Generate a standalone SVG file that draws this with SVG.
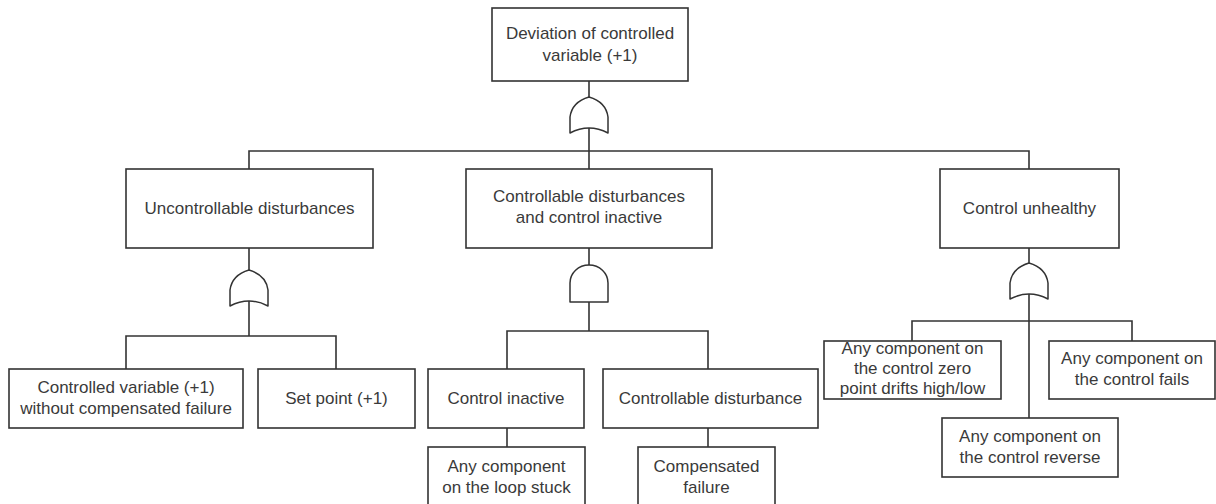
<svg xmlns="http://www.w3.org/2000/svg" width="1216" height="504" viewBox="0 0 1216 504">
  <style>
    .box { fill: #ffffff; stroke: #333333; stroke-width: 1.6; }
    .gate { fill: #ffffff; stroke: #333333; stroke-width: 1.5; stroke-linejoin: round; }
    .wire { fill: none; stroke: #333333; stroke-width: 1.6; }
    text { font-family: "Liberation Sans", Arial, sans-serif; font-size: 17px; fill: #3a3a3a; text-anchor: middle; }
  </style>
  <rect width="1216" height="504" fill="#ffffff"/>

  <!-- connectors -->
  <g id="connectors" class="wire">
    <!-- top event to first level -->
    <path d="M589 81 V151"/>
    <path d="M249 169 V151 H1029 V169"/>
    <path d="M589 151 V169"/>
    <!-- uncontrollable disturbances branch -->
    <path d="M249 248 V336"/>
    <path d="M126 369 V336 H336 V369"/>
    <!-- controllable disturbances branch -->
    <path d="M589 248 V331"/>
    <path d="M507 369 V331 H708 V369"/>
    <path d="M507 428 V447"/>
    <path d="M708 428 V447"/>
    <!-- control unhealthy branch -->
    <path d="M1029 248 V418"/>
    <path d="M912 341 V321 H1132 V341"/>
  </g>

  <!-- logic gates -->
  <g id="gate-top-or">
    <path class="gate" d="M589 97 Q606 102 608 117 L608 133 Q589 123 570 133 L570 117 Q572 102 589 97 Z"/>
  </g>
  <g id="gate-left-or">
    <path class="gate" d="M249 270 Q266 275 268 290 L268 306 Q249 296 230 306 L230 290 Q232 275 249 270 Z"/>
  </g>
  <g id="gate-mid-and">
    <path class="gate" d="M570 302 L570 283 A19 18 0 0 1 608 283 L608 302 Z"/>
  </g>
  <g id="gate-right-or">
    <path class="gate" d="M1029 263 Q1046 268 1048 283 L1048 299 Q1029 289 1010 299 L1010 283 Q1012 268 1029 263 Z"/>
  </g>

  <!-- events -->
  <g id="node-top">
    <rect class="box" x="492" y="8" width="196" height="73"/>
    <text x="590" y="39">Deviation of controlled</text>
    <text x="590" y="61">variable (+1)</text>
  </g>

  <g id="node-uncontrollable">
    <rect class="box" x="126" y="169" width="247" height="79"/>
    <text x="249.5" y="214">Uncontrollable disturbances</text>
  </g>

  <g id="node-controllable-inactive">
    <rect class="box" x="466" y="169" width="246" height="79"/>
    <text x="589" y="202">Controllable disturbances</text>
    <text x="589" y="223">and control inactive</text>
  </g>

  <g id="node-control-unhealthy">
    <rect class="box" x="940" y="169" width="179" height="79"/>
    <text x="1029.5" y="214">Control unhealthy</text>
  </g>

  <g id="node-controlled-variable">
    <rect class="box" x="9" y="369" width="234" height="59"/>
    <text x="126" y="393">Controlled variable (+1)</text>
    <text x="126" y="414">without compensated failure</text>
  </g>

  <g id="node-set-point">
    <rect class="box" x="258" y="369" width="157" height="59"/>
    <text x="336.5" y="404">Set point (+1)</text>
  </g>

  <g id="node-control-inactive">
    <rect class="box" x="428" y="369" width="156" height="59"/>
    <text x="506" y="404">Control inactive</text>
  </g>

  <g id="node-controllable-disturbance">
    <rect class="box" x="603" y="369" width="215" height="59"/>
    <text x="710.5" y="404">Controllable disturbance</text>
  </g>

  <g id="node-loop-stuck">
    <rect class="box" x="428" y="447" width="157" height="70"/>
    <text x="506.5" y="472">Any component</text>
    <text x="506.5" y="493">on the loop stuck</text>
  </g>

  <g id="node-compensated-failure">
    <rect class="box" x="638" y="447" width="137" height="70"/>
    <text x="706.5" y="472">Compensated</text>
    <text x="706.5" y="493">failure</text>
  </g>

  <g id="node-zero-drift">
    <rect class="box" x="824" y="341" width="177" height="58"/>
    <text x="912.5" y="354">Any component on</text>
    <text x="912.5" y="374">the control zero</text>
    <text x="912.5" y="394">point drifts high/low</text>
  </g>

  <g id="node-control-fails">
    <rect class="box" x="1049" y="341" width="166" height="58"/>
    <text x="1132" y="364">Any component on</text>
    <text x="1132" y="385">the control fails</text>
  </g>

  <g id="node-control-reverse">
    <rect class="box" x="942" y="418" width="176" height="59"/>
    <text x="1030" y="442">Any component on</text>
    <text x="1030" y="463">the control reverse</text>
  </g>
</svg>
